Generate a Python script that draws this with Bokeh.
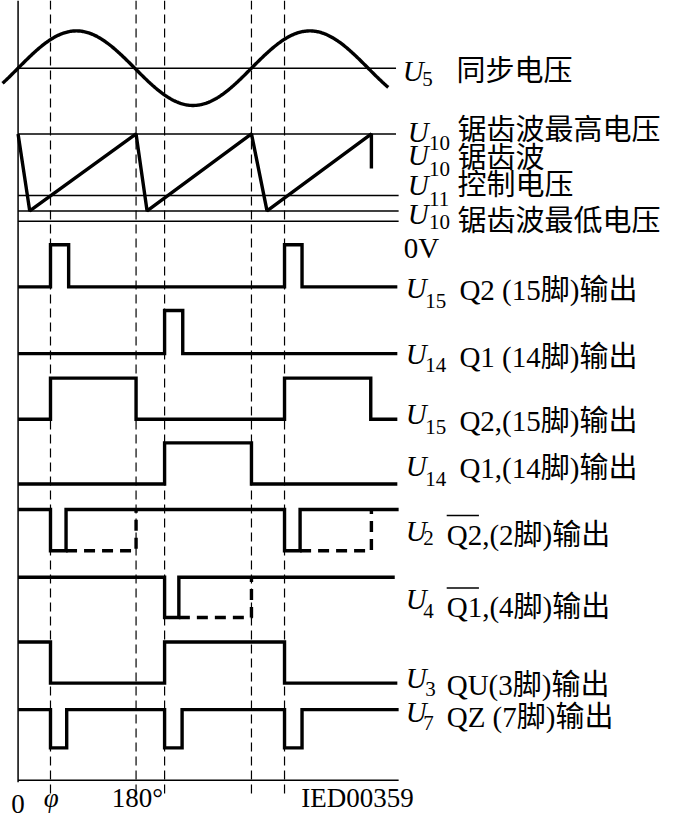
import numpy as np
from bokeh.plotting import figure
from bokeh.models import Range1d
from bokeh.core.properties import value
from bokeh.embed import file_html
from bokeh.resources import INLINE

# ---------------- data (angles in electrical degrees) ----------------
guide_deg = [50, 182, 226, 360, 411]          # dashed guide lines
axis_end = 587                                  # end of time axis

# synchronous voltage U5 (sine), start / end angle
sine_start, sine_end = -24, 571

# sawtooth U10: vertices (angle, relative level 0 = min, 1 = max)
saw_deg = [0, 18, 182, 199, 360, 384, 545, 545]
saw_lvl = [1, 0, 1, 0, 1, 0, 1, 0.55]
u10_max, u11_ctrl, u10_min, zero_v = 1.0, 0.20, 0.0, -0.134

# logic waveforms: edges (angles) and level of each segment
u15_edges = [0, 50, 78, 411, 438, 585];  u15_lvls = [0, 1, 0, 1, 0]
u14_edges = [0, 226, 254, 585];          u14_lvls = [0, 1, 0]
u15b_edges = [0, 50, 182, 411, 544, 585]; u15b_lvls = [0, 1, 0, 1, 0]
u14b_edges = [0, 226, 360, 585];         u14b_lvls = [0, 1, 0]
u2_edges = [0, 50, 74, 411, 435, 587];   u2_lvls = [1, 0, 1, 0, 1]
u2_dash = [[(74, 0), (182, 0), (182, 1)], [(435, 0), (545, 0), (545, 1)]]
u4_edges = [0, 226, 248, 581];           u4_lvls = [1, 0, 1]
u4_dash = [[(248, 0), (360, 0), (360, 1)]]
u3_edges = [0, 50, 226, 411, 585];       u3_lvls = [1, 0, 1, 0]
u7_edges = [0, 50, 75, 226, 253, 411, 438, 587]; u7_lvls = [1, 0, 1, 0, 1, 0, 1]

# ---------------- layout helpers (reference pixel frame) ----------------
PX0, PXD = 18.0, 0.664          # x pixel of 0 deg, pixels per degree
def px2deg(px):
    return (px - PX0) / PXD

W, H = 661, 819
p = figure(width=W, height=H, output_backend="svg", toolbar_location=None,
           x_range=Range1d(px2deg(0), px2deg(677)), y_range=Range1d(835, 0),
           min_border=0)
p.axis.visible = False
p.grid.visible = False
p.outline_line_color = None
p.background_fill_color = "white"
p.border_fill_color = "white"

BLACK = "black"
THICK, THIN = 3.4, 1.5

# vertical solid axis and bottom axis
p.segment(x0=[0], y0=[0], x1=[0], y1=[797], line_color=BLACK, line_width=THIN)
p.segment(x0=[0], y0=[795], x1=[axis_end], y1=[795], line_color=BLACK, line_width=THIN)
# dashed guides
p.segment(x0=guide_deg, y0=[0]*len(guide_deg), x1=guide_deg, y1=[810]*len(guide_deg),
          line_color=BLACK, line_width=1.2, line_dash="9 5")

# sine panel
SIN_C, SIN_A = 69, 38
sx = np.linspace(sine_start, sine_end, 400)
p.line(sx, SIN_C - SIN_A*np.sin(np.radians(sx)), line_color=BLACK, line_width=THICK)
p.segment(x0=[0], y0=[SIN_C], x1=[583], y1=[SIN_C], line_color=BLACK, line_width=THIN)

# sawtooth panel
SAW_B, SAW_S = 214.5, 78.5
def saw_y(v):
    return SAW_B - v*SAW_S
refs = [u10_max, u11_ctrl, u10_min, zero_v]
ref_end = [583, 587, 587, 587]
p.segment(x0=[0]*4, y0=[saw_y(v) for v in refs], x1=ref_end, y1=[saw_y(v) for v in refs],
          line_color=BLACK, line_width=THIN)
p.line(saw_deg, [saw_y(v) for v in saw_lvl], line_color=BLACK, line_width=THICK)

# logic rows: (low px, high px)
rows = [(292, 249), (360, 316), (427, 385), (493, 451), (561, 519), (629, 588), (696, 654), (762, 723)]
waves = [(u15_edges, u15_lvls), (u14_edges, u14_lvls), (u15b_edges, u15b_lvls),
         (u14b_edges, u14b_lvls), (u2_edges, u2_lvls), (u4_edges, u4_lvls),
         (u3_edges, u3_lvls), (u7_edges, u7_lvls)]

def step_path(edges, lvls, lo, hi):
    xs, ys = [], []
    for i, l in enumerate(lvls):
        y = hi if l else lo
        xs += [edges[i], edges[i+1]]
        ys += [y, y]
    return xs, ys

for (lo, hi), (e, l) in zip(rows, waves):
    xs, ys = step_path(e, l, lo, hi)
    p.line(xs, ys, line_color=BLACK, line_width=THICK, line_join="miter")

for (lo, hi), dashes in ((rows[4], u2_dash), (rows[5], u4_dash)):
    for seg in dashes:
        p.line([a for a, _ in seg], [hi if v else lo for _, v in seg],
               line_color=BLACK, line_width=THICK, line_dash="11 7")

# ---------------- texts ----------------
SERIF = value("'Liberation Serif', 'Noto Sans CJK SC'")
LATIN = value("Liberation Serif")
def txt(px, py, s, size, style="normal", align="left", baseline="middle", font=SERIF):
    p.text(x=[px2deg(px)], y=[py], text=[s], text_font=font, text_font_size=size,
           text_font_style=style, text_align=align, text_baseline=baseline, text_color=BLACK)

labels = [
    # U x, U y, sub, sub x, sub y, main text, main x, main y
    (412, 72, "5", 432, 80, "同步电压", 467, 72),
    (417, 134, "10", 439, 145, "锯齿波最高电压", 468, 132),
    (417, 158, "10", 439, 172, "锯齿波", 468, 161),
    (417, 188, "11", 439, 202, "控制电压", 468, 188),
    (417, 218, "10", 439, 226, "锯齿波最低电压", 468, 225),
    (415, 293, "15", 435, 306, "Q2 (15脚)输出", 470, 295),
    (415, 360, "14", 435, 372, "Q1 (14脚)输出", 470, 363),
    (415, 422, "15", 435, 435, "Q2,(15脚)输出", 470, 429),
    (415, 475, "14", 435, 488, "Q1,(14脚)输出", 470, 477),
    (415, 541, "2", 433, 548, "Q2,(2脚)输出", 457, 545),
    (415, 610, "4", 433, 622, "Q1,(4脚)输出", 457, 618),
    (415, 691, "3", 435, 702, "QU(3脚)输出", 457, 698),
    (415, 725, "7", 433, 737, "QZ (7脚)输出", 457, 730),
]
for ux, uy, sub, sbx, sby, main, mx, my in labels:
    txt(ux, uy, "U", "29px", "italic", font=LATIN)
    txt(sbx, sby, sub, "21px", font=LATIN)
    txt(mx, my, main, "29px")
txt(413, 252, "0V", "29px", font=LATIN)

# overbars for Q2 and Q1 (inverted outputs)
p.segment(x0=[px2deg(457)]*2, y0=[525, 599], x1=[px2deg(490)]*2, y1=[525, 599],
          line_color=BLACK, line_width=1.5)

# bottom axis labels
BL = 828
txt(18, BL, "0", "27px", align="center", baseline="bottom", font=LATIN)
txt(52, BL, "φ", "27px", "italic", align="center", baseline="bottom", font=LATIN)
txt(114, BL, "180°", "27px", baseline="bottom", font=LATIN)
txt(308, BL, "IED00359", "27px", baseline="bottom", font=LATIN)

open("out.html", "w").write(file_html(p, INLINE))
